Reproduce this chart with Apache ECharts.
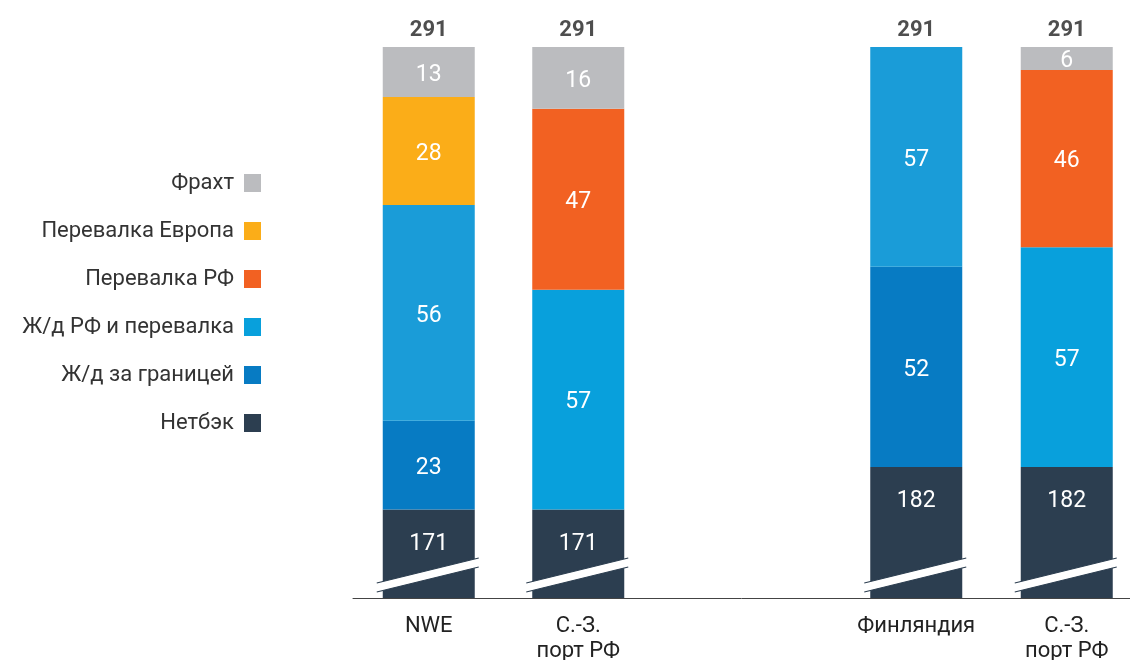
<!DOCTYPE html>
<html>
<head>
<meta charset="utf-8">
<script src="https://cdn.jsdelivr.net/npm/echarts@6/dist/echarts.min.js"></script>
<style>
  html, body { margin: 0; padding: 0; background: #fff; }
  #main { width: 1130px; height: 660px; }
</style>
</head>
<body>
<div id="main"></div>
<script>
// data: bars left to right
var categories = ['NWE', 'С.-З.\nпорт РФ', 'Финляндия', 'С.-З.\nпорт РФ'];
var netback    = [171, 171, 182, 182];
var railAbroad = [23, 0, 52, 0];
var railRF     = [56, 57, 57, 57];
var transRF    = [0, 47, 0, 46];
var transEU    = [28, 0, 0, 0];
var freight    = [13, 16, 0, 6];
var totals     = [291, 291, 291, 291];

var axisMin = 148;
var axisMax = 291;

var FONT = 'Roboto';

// legend order from top to bottom
var legendNames = ['Фрахт', 'Перевалка Европа', 'Перевалка РФ', 'Ж/д РФ и перевалка', 'Ж/д за границей', 'Нетбэк'];
var colors = {
  'Фрахт': '#bbbcbf',
  'Перевалка Европа': '#fbad18',
  'Перевалка РФ': '#f26122',
  'Ж/д РФ и перевалка': '#08a0dc',
  'Ж/д за границей': '#077bc3',
  'Нетбэк': '#2c3e50'
};

var chart = echarts.init(document.getElementById('main'));

// two groups of bars, each in its own grid
var grids = [
  { left: 354, width: 299, top: 47, bottom: 62, outerBoundsMode: 'none' },
  { left: 841, width: 301, top: 47, bottom: 62, outerBoundsMode: 'none' },
  // only for the continuous baseline
  { left: 353, right: 0, top: 47, bottom: 62, outerBoundsMode: 'none' }
];

var xAxes = [];
var yAxes = [];
var series = [];

function part(arr, g) { return arr.slice(g * 2, g * 2 + 2); }

function barSeries(name, values, g, color) {
  return {
    name: name,
    type: 'bar',
    stack: 'grp' + g,
    xAxisIndex: g,
    yAxisIndex: g,
    barWidth: 92,
    data: part(values, g),
    itemStyle: { color: color || colors[name] },
    label: {
      show: true,
      position: 'inside',
      offset: [0, 3],
      color: '#fff',
      fontFamily: FONT,
      fontSize: 23,
      formatter: function (p) { return p.value > 0 ? p.value : ''; }
    }
  };
}

[0, 1].forEach(function (g) {
  xAxes.push({
    type: 'category',
    gridIndex: g,
    data: part(categories, g),
    axisLine: { show: false },
    axisTick: { show: false },
    axisLabel: {
      interval: 0,
      hideOverlap: false,
      showMinLabel: true,
      showMaxLabel: true,
      color: '#222',
      fontFamily: FONT,
      fontSize: 22,
      lineHeight: 25,
      margin: 16
    }
  });
  yAxes.push({
    type: 'value',
    gridIndex: g,
    min: axisMin,
    max: axisMax,
    show: false
  });

  var nb = barSeries('Нетбэк', netback, g);
  nb.label.position = 'insideTop';
  nb.label.distance = 20;
  series.push(nb);
  series.push(barSeries('Ж/д за границей', railAbroad, g));
  // NWE and Finland bars have a slightly different blue
  series.push(barSeries('Ж/д РФ и перевалка', railRF, g, function (p) {
    return (g * 2 + p.dataIndex) % 2 === 0 ? '#1a9cd8' : '#08a0dc';
  }));
  series.push(barSeries('Перевалка РФ', transRF, g));
  series.push(barSeries('Перевалка Европа', transEU, g));
  series.push(barSeries('Фрахт', freight, g));

  // totals above the bars
  series.push({
    name: 'total',
    type: 'scatter',
    xAxisIndex: g,
    yAxisIndex: g,
    symbolSize: 1,
    itemStyle: { color: 'transparent' },
    data: part(totals, g),
    label: {
      show: true,
      position: 'top',
      distance: 5,
      color: '#222',
      fontFamily: FONT,
      fontWeight: 'bold',
      fontSize: 22
    },
    silent: true
  });
});

// baseline axis
xAxes.push({
  type: 'value',
  gridIndex: 2,
  axisLine: { show: true, lineStyle: { color: '#444', width: 1 } },
  axisTick: { show: false },
  axisLabel: { show: false },
  splitLine: { show: false }
});
yAxes.push({ type: 'value', gridIndex: 2, show: false });

var option = {
  backgroundColor: '#fff',
  animation: false,
  grid: grids,
  legend: {
    orient: 'vertical',
    right: 864,
    top: 167,
    align: 'right',
    itemWidth: 17,
    itemHeight: 18,
    itemGap: 26,
    icon: 'rect',
    textStyle: { color: '#333', fontFamily: FONT, fontSize: 22, padding: [0, 5, 0, 0] },
    data: legendNames.map(function (n) {
      return { name: n, itemStyle: { color: colors[n] } };
    })
  },
  xAxis: xAxes,
  yAxis: yAxes,
  series: series
};

chart.setOption(option);

// axis break marks at the bottom of each bar
var marks = [];
categories.forEach(function (c, i) {
  var g = Math.floor(i / 2);
  var pt = chart.convertToPixel({ gridIndex: g }, [i % 2, axisMin]);
  var x = pt[0], y = pt[1];
  var x1 = x - 52, x2 = x + 50;
  marks.push({
    type: 'polygon',
    shape: { points: [[x1, y - 15], [x2, y - 40], [x2, y - 31], [x1, y - 6]] },
    style: { fill: '#fff' },
    z: 100
  });
  marks.push({
    type: 'line',
    shape: { x1: x1, y1: y - 15, x2: x2, y2: y - 40 },
    style: { stroke: '#2c3e50', lineWidth: 1.2 },
    z: 101
  });
  marks.push({
    type: 'line',
    shape: { x1: x1, y1: y - 6, x2: x2, y2: y - 31 },
    style: { stroke: '#2c3e50', lineWidth: 1.2 },
    z: 101
  });
});
chart.setOption({ graphic: marks });
</script>
</body>
</html>
